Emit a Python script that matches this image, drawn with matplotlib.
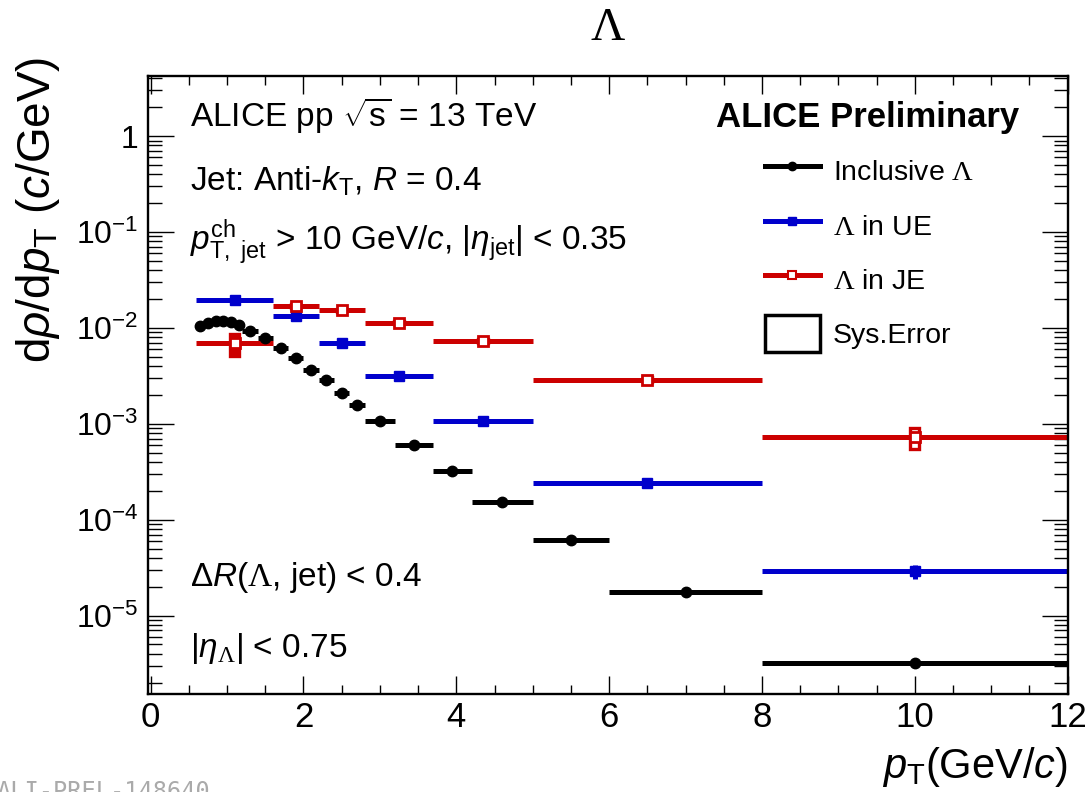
import numpy as np
import matplotlib
matplotlib.use("Agg")
import matplotlib.pyplot as plt
from matplotlib.lines import Line2D
from matplotlib.patches import Rectangle
from matplotlib.ticker import LogLocator, MultipleLocator, NullFormatter

plt.rcParams['font.family'] = ['Liberation Sans', 'DejaVu Sans']
plt.rcParams['mathtext.fontset'] = 'custom'
plt.rcParams['mathtext.rm'] = 'Liberation Sans'
plt.rcParams['mathtext.it'] = 'Liberation Sans:italic'
plt.rcParams['mathtext.bf'] = 'Liberation Sans:bold'
plt.rcParams['mathtext.cal'] = 'Liberation Serif'

# inclusive Lambda, fine binning
inc_edges = [0.6, 0.7, 0.8, 0.9, 1.0, 1.1, 1.2, 1.4, 1.6, 1.8, 2.0, 2.2, 2.4,
             2.6, 2.8, 3.2, 3.7, 4.2, 5.0, 6.0, 8.0, 12.0]
inc_vals = [0.0106, 0.0113, 0.0118, 0.0118, 0.0114, 0.0107, 0.0094, 0.0079,
            0.0062, 0.0048, 0.00367, 0.00284, 0.00211, 0.00158, 0.00108,
            0.000595, 0.00032, 0.000154, 6.2e-5, 1.78e-5, 3.2e-6]

# Lambda in UE and in JE, coarse binning
jet_edges = [0.6, 1.6, 2.2, 2.8, 3.7, 5.0, 8.0, 12.0]
ue_vals = [0.0197, 0.0133, 0.0070, 0.00313, 0.00108, 0.00024, 2.9e-5]
ue_stat = [0.0004, 0.0003, 0.0002, 0.00008, 0.00003, 0.000008, 0.5e-5]
je_vals = [0.0069, 0.0168, 0.0153, 0.01135, 0.0073, 0.00288, 0.000727]
je_stat = [0.0018, 0.0007, 0.0005, 0.0003, 0.0002, 0.00012, 0.00006]
je_sys = [0.0018, 0.0008, 0.0006, 0.0004, 0.0003, 0.00018, 0.00018]

blue = '#0000cc'
red = '#cc0000'
lw_bar = 3.6

inc_edges = np.array(inc_edges)
inc_x = 0.5 * (inc_edges[1:] + inc_edges[:-1])
inc_xerr = 0.5 * (inc_edges[1:] - inc_edges[:-1])
jet_edges = np.array(jet_edges)
jet_x = 0.5 * (jet_edges[1:] + jet_edges[:-1])
jet_xerr = 0.5 * (jet_edges[1:] - jet_edges[:-1])

fig = plt.figure(figsize=(10.88, 7.92), dpi=100)
ax = fig.add_axes([0.1360, 0.1237, 0.8453, 0.7807])
ax.set_yscale('log')

# horizontal bin-width bars
ax.errorbar(inc_x, inc_vals, xerr=inc_xerr, fmt='none', ecolor='black',
            elinewidth=lw_bar, zorder=2)
ax.errorbar(jet_x, ue_vals, xerr=jet_xerr, fmt='none', ecolor=blue,
            elinewidth=lw_bar, zorder=2)
ax.errorbar(jet_x, je_vals, xerr=jet_xerr, fmt='none', ecolor=red,
            elinewidth=lw_bar, zorder=2)

# systematic boxes (JE)
box_w = 0.12
for xc, yc, s in zip(jet_x, je_vals, je_sys):
    ax.add_patch(Rectangle((xc - box_w / 2, yc - s), box_w, 2 * s,
                           facecolor='white', edgecolor=red, lw=2.4, zorder=3))

# statistical errors
ax.errorbar(jet_x, ue_vals, yerr=ue_stat, fmt='none', ecolor=blue,
            elinewidth=lw_bar, zorder=4)
ax.errorbar(jet_x, je_vals, yerr=je_stat, fmt='none', ecolor=red,
            elinewidth=4.5, zorder=4)

# markers
ax.plot(inc_x, inc_vals, 'o', color='black', ms=7.5, zorder=5)
ax.plot(jet_x, ue_vals, 's', color=blue, ms=7, zorder=5)
ax.plot(jet_x, je_vals, 's', color=red, mfc='white', mew=2, ms=6.5, zorder=5)

ax.set_xlim(-0.035, 12)
ax.set_ylim(1.52e-6, 4.27)

ax.set_yticks([1, 1e-1, 1e-2, 1e-3, 1e-4, 1e-5])
ax.set_yticklabels(['1', r'$10^{-1}$', r'$10^{-2}$', r'$10^{-3}$',
                    r'$10^{-4}$', r'$10^{-5}$'])
ax.yaxis.set_minor_locator(LogLocator(base=10, subs=np.arange(2, 10), numticks=100))
ax.yaxis.set_minor_formatter(NullFormatter())
ax.xaxis.set_major_locator(MultipleLocator(2))
ax.xaxis.set_minor_locator(MultipleLocator(0.5))

ax.tick_params(which='both', direction='in', top=True, right=True, width=1)
ax.tick_params(axis='y', which='major', length=19, labelsize=23, pad=7)
ax.tick_params(axis='y', which='minor', length=10)
ax.tick_params(axis='x', which='major', length=13, labelsize=25, pad=5)
ax.tick_params(axis='x', which='minor', length=6.5)
for sp in ax.spines.values():
    sp.set_linewidth(1.7)

# axis titles
fig.text(0.035, 0.928, r'd$\rho$/d$p_{\mathrm{T}}$ ($c$/GeV)', rotation=90,
         ha='center', va='top', fontsize=33)
fig.text(0.9813, 0.018, r'$p_{\mathrm{T}}$(GeV/$c$)', ha='right',
         va='baseline', fontsize=30)
fig.text(0.5588, 0.949, '\u039b', family='Liberation Serif', fontsize=34,
         ha='center', va='baseline')

# labels on the pad
fs = 24
fig.text(0.1746, 0.8413, r'ALICE pp $\sqrt{\mathrm{s}}$ = 13 TeV', fontsize=fs)
fig.text(0.1746, 0.7588, r'Jet: Anti-$k_{\mathrm{T}}$, $R$ = 0.4', fontsize=fs)
fig.text(0.1746, 0.6843,
         r'$p_{\mathrm{T,\ jet}}^{\mathrm{ch}}$ > 10 GeV/$c$, $|\eta_{\mathrm{jet}}|$ < 0.35',
         fontsize=fs)
fig.text(0.1746, 0.2601, r'$\Delta R$($\mathcal{\Lambda}$, jet) < 0.4', fontsize=fs)
fig.text(0.1746, 0.1705, r'$|\eta_{\mathcal{\Lambda}}|$ < 0.75', fontsize=fs)
fig.text(0.6581, 0.8396, 'ALICE Preliminary', fontsize=25, fontweight='bold')

# legend
h_inc = Line2D([], [], color='black', lw=lw_bar, marker='o', ms=6)
h_ue = Line2D([], [], color=blue, lw=lw_bar, marker='s', ms=6)
h_je = Line2D([], [], color=red, lw=lw_bar, marker='s', ms=6, mfc='white', mew=1.5)
h_sys = Rectangle((0, 0), 1, 1, facecolor='white', edgecolor='black', lw=2.5)
ax.legend([h_inc, h_ue, h_je, h_sys],
          [r'Inclusive $\mathcal{\Lambda}$', r'$\mathcal{\Lambda}$ in UE',
           r'$\mathcal{\Lambda}$ in JE', 'Sys.Error'],
          loc='upper left', bbox_to_anchor=(0.7031, 0.8074),
          bbox_transform=fig.transFigure, frameon=False, fontsize=20.5,
          handlelength=1.93, handleheight=1.63, handletextpad=0.46,
          labelspacing=0.6, borderpad=0, borderaxespad=0)

fig.text(-0.003, 1 - 780 / 792, 'ALI-PREL-148640', family='DejaVu Sans Mono',
         fontsize=17, color='#aaaaaa', ha='left', va='top')

fig.savefig('out.png', dpi=100)
